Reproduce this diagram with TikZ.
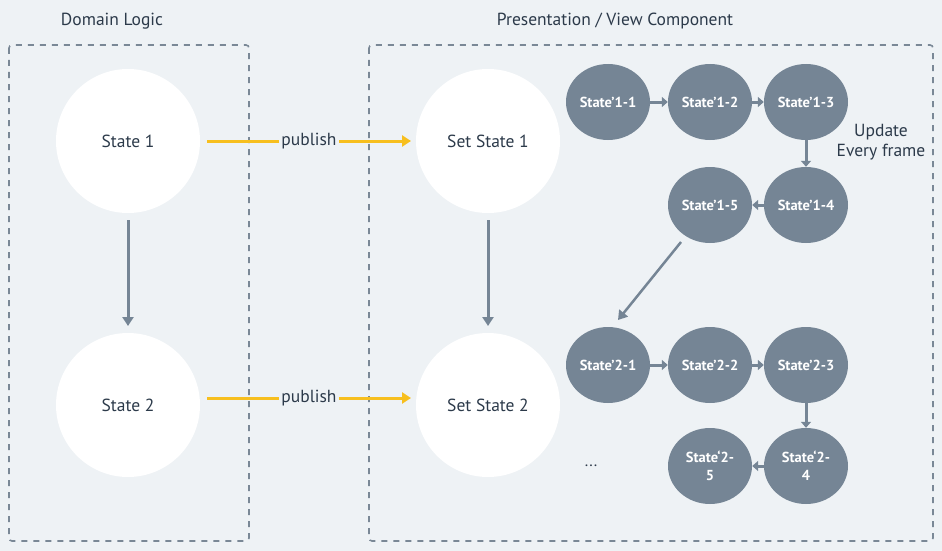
\documentclass[tikz,border=0pt]{standalone}
\usepackage{fontspec}
\setmainfont{PT Sans}
\usetikzlibrary{arrows.meta,shapes.geometric}
\definecolor{bg}{HTML}{EEF2F5}
\definecolor{slate}{HTML}{758595}
\definecolor{dash}{HTML}{7A8896}
\definecolor{ink}{HTML}{2C3A4A}
\definecolor{gold}{HTML}{F7BF1E}
\tikzset{
  bigstate/.style={circle,fill=white,minimum size=144pt,inner sep=0pt,text=ink,font=\fontsize{17.5}{20}\selectfont},
  substate/.style={ellipse,fill=slate,minimum width=84pt,minimum height=76pt,inner sep=0pt,text=white,font=\bfseries\fontsize{14.5}{18}\selectfont,align=center},
  region/.style={draw=dash,line width=1.6pt,dash pattern=on 6pt off 6pt,rounded corners=3pt},
  garrow/.style={draw=slate,line width=3pt,-{Triangle[length=9pt,width=11pt]}},
  sarrow/.style={draw=slate,line width=3pt,-{Triangle[length=6pt,width=10pt]}},
  yarrow/.style={draw=gold,line width=3pt,-{Triangle[length=9pt,width=11pt]}},
  ttl/.style={text=ink,font=\fontsize{17.5}{20}\selectfont},
  lbl/.style={text=ink,font=\fontsize{17.5}{20}\selectfont,fill=bg,inner sep=2pt}
}
\begin{document}
\begin{tikzpicture}[x=1pt,y=-1pt]
\fill[bg] (0,0) rectangle (942,551);
\useasboundingbox (0,0) rectangle (942,551);
\draw[region] (9,45) rectangle (249,541);
\draw[region] (369,45) rectangle (933,541);
\node[ttl] (t1) at (112,21) {Domain Logic};
\node[ttl] (t2) at (615,21) {Presentation / View Component};

\node[bigstate] (s1) at (128,141) {State 1};
\node[bigstate] (s2) at (128,405) {State 2};
\node[bigstate] (ss1) at (488,141) {Set State 1};
\node[bigstate] (ss2) at (488,405) {Set State 2};

\coordinate (a1s) at (128,220); \coordinate (a1e) at (128,326);
\draw[garrow] (a1s) -- (a1e);
\coordinate (a2s) at (488,220); \coordinate (a2e) at (488,326);
\draw[garrow] (a2s) -- (a2e);

\coordinate (p1s) at (207,141); \coordinate (p1e) at (411,141);
\draw[yarrow] (p1s) -- (p1e) node[lbl,midway] (pub1) {publish};
\coordinate (p2s) at (207,398); \coordinate (p2e) at (411,398);
\draw[yarrow] (p2s) -- (p2e) node[lbl,midway] (pub2) {publish};

\node[substate] (a11) at (608,102) {State'1-1};
\node[substate] (a12) at (710,102) {State'1-2};
\node[substate] (a13) at (806,102) {State'1-3};
\node[substate] (a14) at (806,205) {State'1-4};
\node[substate] (a15) at (710,205) {State'1-5};

\node[substate] (b21) at (608,365) {State'2-1};
\node[substate] (b22) at (710,365) {State'2-2};
\node[substate] (b23) at (806,365) {State'2-3};
\node[substate] (b24) at (806,466) {State`2-\\4};
\node[substate] (b25) at (710,466) {State`2-\\5};

\draw[sarrow] (a11) -- (a12);
\draw[sarrow] (a12) -- (a13);
\draw[sarrow] (a13) -- (a14);
\draw[sarrow] (a14) -- (a15);
\coordinate (d1) at (681,242); \coordinate (d2) at (618,320);
\draw[garrow,line width=2.5pt] (d1) -- (d2);
\draw[sarrow] (b21) -- (b22);
\draw[sarrow] (b22) -- (b23);
\draw[sarrow] (b23) -- (b24);
\draw[sarrow] (b24) -- (b25);

\node[ttl,align=center] (upd) at (881,142) {Update\\Every frame};
\node[text=ink,font=\fontsize{16}{18}\selectfont] (dots) at (591,466) {...};
\end{tikzpicture}
\end{document}
